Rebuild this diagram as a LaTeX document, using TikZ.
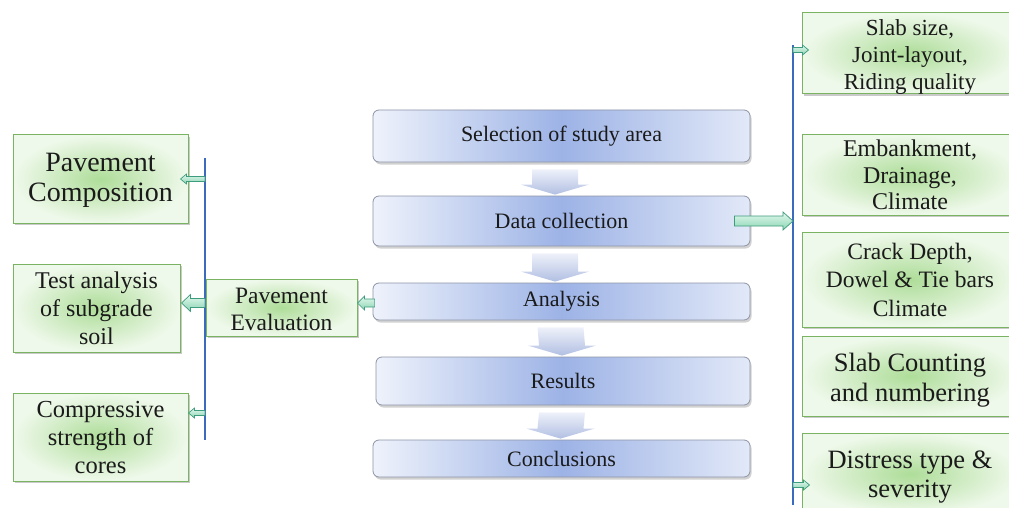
\documentclass[tikz,border=0pt]{standalone}
\usepackage{fontspec}
\setmainfont{Liberation Serif}
\usetikzlibrary{calc,shadows}
\definecolor{gbord}{HTML}{7AB362}
\definecolor{gin}{HTML}{AEDD99}
\definecolor{gout}{HTML}{EFF9EB}
\definecolor{bbord}{HTML}{8E94A6}
\definecolor{bmid}{HTML}{9DB3E6}
\definecolor{bside}{HTML}{EEF2FB}
\definecolor{lineblue}{HTML}{3A6BBE}
\definecolor{aline}{HTML}{3C9C7C}
\definecolor{atop}{HTML}{E4F8EF}
\definecolor{abot}{HTML}{8AD5B2}
\definecolor{ctop}{HTML}{EEF1FA}
\definecolor{cbot}{HTML}{B1BFE2}
\definecolor{txt}{HTML}{1A1A1A}
\tikzset{
  gbox/.style={draw=gbord, line width=1pt, inner color=gin, outer color=gout,
    drop shadow={shadow xshift=2pt, shadow yshift=-2pt, opacity=0.35, fill=black!60},
    inner sep=0pt},
  gtext/.style={align=center, text=txt, inner sep=0pt},
  bbox/.style={draw=bbord, line width=0.8pt, rounded corners=6pt,
    left color=bside, right color=bside!85!bmid, middle color=bmid,
    drop shadow={shadow xshift=1.5pt, shadow yshift=-2.5pt, opacity=0.3, fill=black!60},
    align=center, text=txt, inner sep=0pt, minimum width=377pt,
    font=\fontsize{22}{26}\selectfont},
  chev/.style={top color=ctop, bottom color=cbot, draw=none},
  garr/.style={draw=aline, line width=0.7pt, top color=atop, bottom color=abot},
  vline/.style={draw=lineblue, line width=1.3pt},
}
% green box: name, centre, width, height, font size, baselineskip, text shift, text
\newcommand{\gnode}[8]{%
  \node[gbox, minimum width=#3pt, minimum height=#4pt] (#1) at (#2) {};
  \node[gtext, font=\fontsize{#5}{#6}\selectfont] (#1-t) at ($(#1)+(0,#7)$) {#8};}
\newcommand{\garrow}[5]{%
  \path[garr] let \p1=(#1), \p2=(#2), \p3=($(\p2)!#5!(\p1)$) in
  (\x1,{\y2+#3}) -- (\x3,{\y2+#3}) -- (\x3,{\y2+#4}) -- (\x2,\y2)
  -- (\x3,{\y2-#4}) -- (\x3,{\y2-#3}) -- (\x1,{\y2-#3}) -- cycle;}
\newcommand{\chevarrow}[3]{%
  \path[chev] ($(#1.south)+(#3-23,7)$) -- ($(#1.south)+(#3+23,7)$)
  -- ($(#2.north)+(#3+23,-11)$) -- ($(#2.north)+(#3+34,-11)$)
  -- ($(#2.north)+(#3,-1)$) -- ($(#2.north)+(#3-34,-11)$)
  -- ($(#2.north)+(#3-23,-11)$) -- cycle;}
\begin{document}
\begin{tikzpicture}[x=1pt,y=-1pt]
\useasboundingbox (0,0) rectangle (1009,508);
\clip (0,0) rectangle (1009,508);
% centre column
\node[bbox, minimum height=52pt] (sel) at (561.5,136) {Selection of study area};
\node[bbox, minimum height=50pt] (data) at (561.5,221) {Data collection};
\node[bbox, minimum height=37pt] (ana) at (561.5,301.5) {Analysis};
\node[bbox, minimum height=48pt, minimum width=374pt] (res) at (563,381) {Results};
\node[bbox, minimum height=37pt] (conc) at (561.5,458.5) {Conclusions};
\chevarrow{sel}{data}{-6.5}
\chevarrow{data}{ana}{-6.5}
\chevarrow{ana}{res}{-1}
\chevarrow{res}{conc}{-1}
% left side
\coordinate (ltop) at (205,158);
\coordinate (lbot) at (205,440);
\draw[vline] (ltop) -- (lbot);
\gnode{comp}{100.5,179}{175}{88}{28}{30}{1.5}{Pavement\\Composition}
\gnode{test}{96.5,308}{167}{88}{24}{28}{0}{Test analysis\\of subgrade\\soil}
\gnode{cores}{100.5,437}{175}{88}{24.5}{28}{0.5}{Compressive\\strength of\\cores}
\gnode{eval}{281.5,307.5}{151}{57}{23.5}{27}{2}{Pavement\\Evaluation}
\garrow{comp.east -| ltop}{$(comp.east)+(-8,0)$}{2.5pt}{5pt}{6pt}
\garrow{$(test.east -| ltop)+(0,-5)$}{$(test.east)+(1,-5)$}{4.5pt}{8.5pt}{9pt}
\garrow{$(cores.east -| ltop)+(0,-24)$}{$(cores.east)+(0,-24)$}{2.5pt}{5pt}{6pt}
\garrow{$(ana.west)+(2,1.5)$}{$(eval.east)+(0,-4.5)$}{4pt}{7pt}{7pt}
% right side
\coordinate (rtop) at (793,45);
\coordinate (rbot) at (793,505);
\draw[vline] (rtop) -- (rbot);
\gnode{slab}{910,53.5}{216}{81}{23}{27}{4}{Slab size,\\Joint-layout,\\Riding quality}
\gnode{emb}{910,175}{216}{80}{24}{26.5}{0}{Embankment,\\Drainage,\\Climate}
\gnode{crack}{910,279.5}{216}{95}{23.5}{28.5}{0}{Crack Depth,\\Dowel \& Tie bars\\Climate}
\gnode{count}{910,376}{216}{80}{26.5}{30}{4}{Slab Counting\\and numbering}
\gnode{dist}{910,474}{216}{82}{26.5}{29}{3}{Distress type \&\\severity}
\garrow{$(data.east)+(-16,0)$}{data.east -| rtop}{5pt}{9pt}{10pt}
\garrow{$(slab.west -| rtop)+(0,-3.5)$}{$(slab.west)+(7,-3.5)$}{2.5pt}{5pt}{6pt}
\garrow{$(dist.west -| rtop)+(0,11)$}{$(dist.west)+(8,11)$}{2.5pt}{5pt}{6pt}
\end{tikzpicture}
\end{document}
